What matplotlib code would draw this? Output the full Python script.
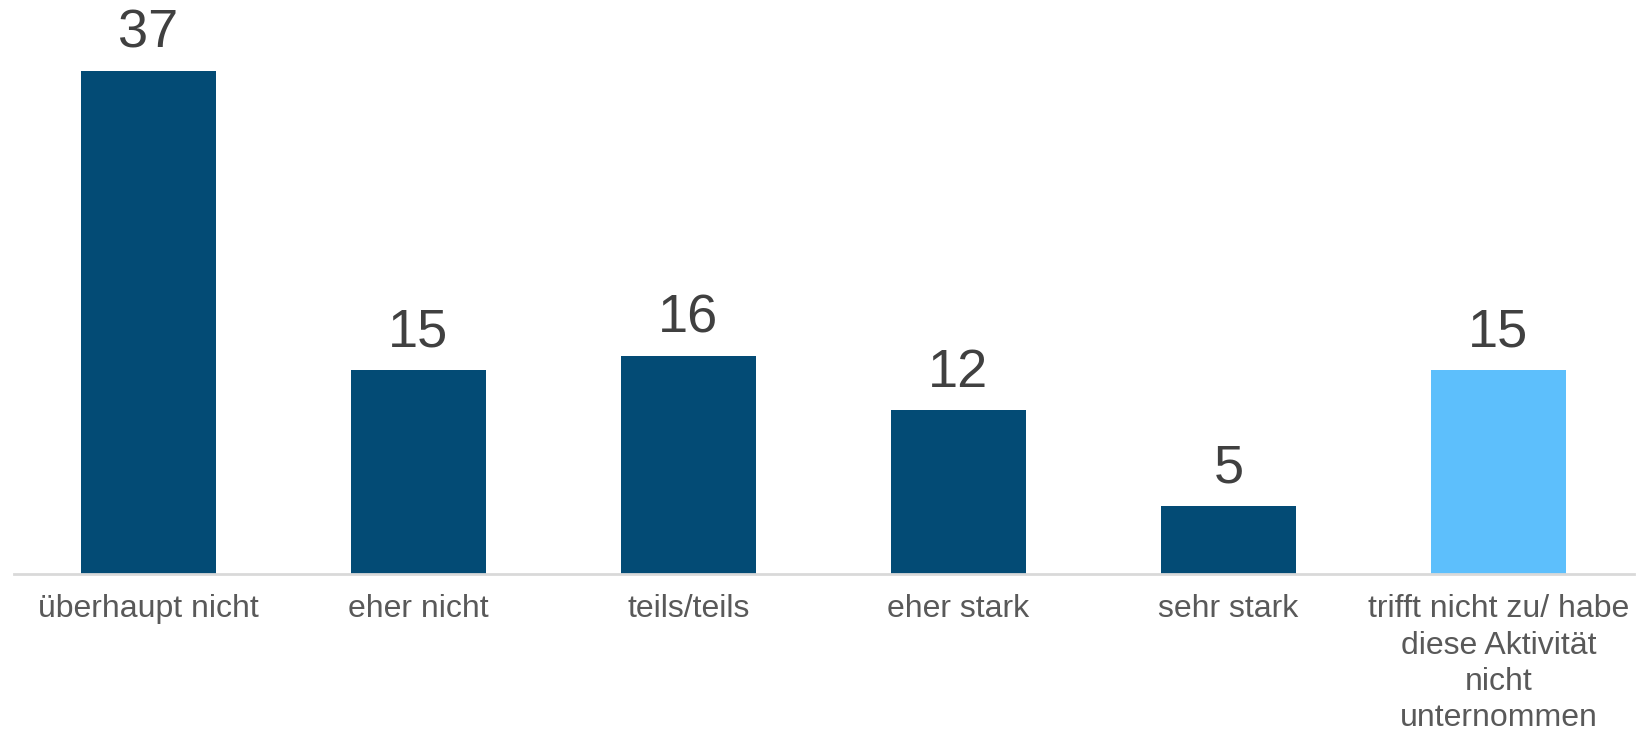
import matplotlib
matplotlib.use("Agg")
import matplotlib.pyplot as plt

categories = [
    "überhaupt nicht",
    "eher nicht",
    "teils/teils",
    "eher stark",
    "sehr stark",
    "trifft nicht zu/ habe\ndiese Aktivität\nnicht\nunternommen",
]
values = [37, 15, 16, 12, 5, 15]
bar_colors = ["#034B75", "#034B75", "#034B75", "#034B75", "#034B75", "#5DBFFC"]

plt.rcParams["font.family"] = ["Liberation Sans", "DejaVu Sans"]

fig = plt.figure(figsize=(16.41, 7.35), dpi=100)
ax = fig.add_axes([13.5 / 1641, (735 - 573.5) / 735, 1620 / 1641, 573.5 / 735])

x = list(range(len(categories)))
bars = ax.bar(x, values, width=0.5, color=bar_colors, zorder=2)

for xi, v in zip(x, values):
    ax.annotate(str(v), xy=(xi, v), xytext=(0, 9), textcoords="offset points",
                ha="center", va="bottom", fontsize=39, color="#404040")

ax.set_xlim(-0.5, len(categories) - 0.5)
ax.set_ylim(0, 42.2)
ax.set_xticks(x)
ax.set_xticklabels(categories, fontsize=23, color="#595959", linespacing=1.27)
ax.tick_params(axis="x", length=0, pad=15)
ax.set_yticks([])

for side in ["top", "right", "left"]:
    ax.spines[side].set_visible(False)
ax.spines["bottom"].set_color("#D9D9D9")
ax.spines["bottom"].set_linewidth(2)

fig.savefig("out.png", dpi=100)
